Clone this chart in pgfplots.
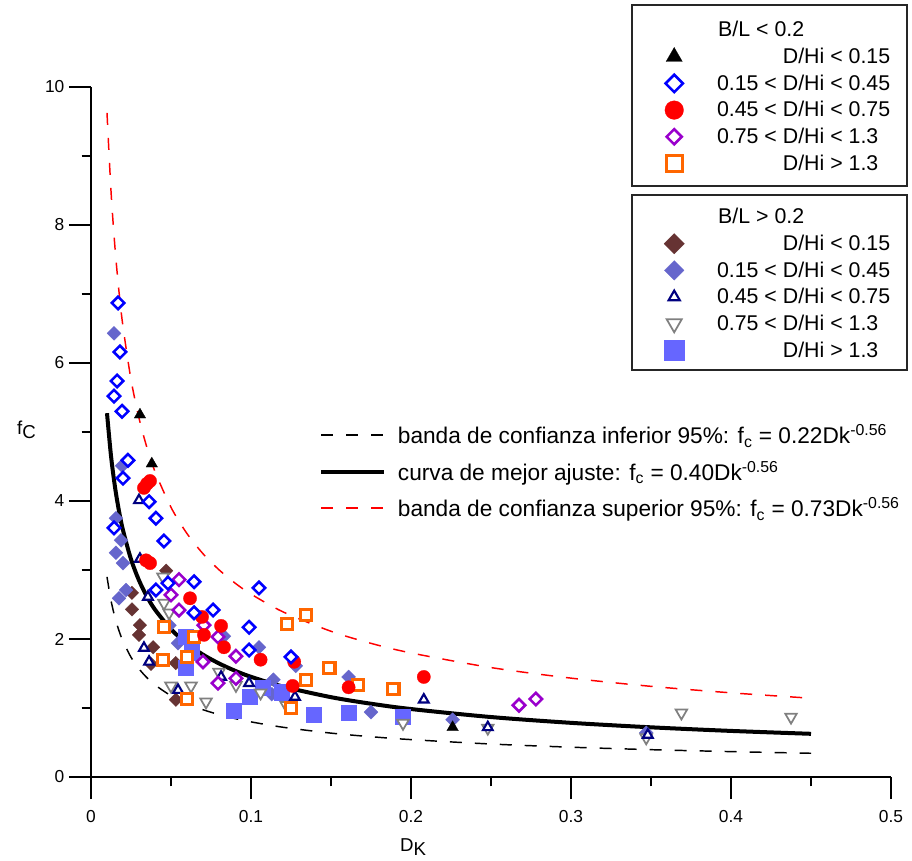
\documentclass[border=0pt]{standalone}
\usepackage{pgfplots}
\pgfplotsset{compat=1.18}
\usepackage{pgfplotstable}
\usepackage{fontspec}
\setmainfont{Liberation Sans}

\definecolor{cBlue}{HTML}{0000FF}
\definecolor{cRed}{HTML}{FF0000}
\definecolor{cPurple}{HTML}{9900CC}
\definecolor{cOrange}{HTML}{FF6600}
\definecolor{cBrown}{HTML}{663333}
\definecolor{cSlate}{HTML}{6666CC}
\definecolor{cNavy}{HTML}{000080}
\definecolor{cGray}{HTML}{808080}
\definecolor{cSq}{HTML}{6666FF}

% fitted curves fc = a*Dk^-0.56, a = 0.40 / 0.73 / 0.22
\pgfplotstableread{
x      fit    up     low
0.01   5.273  9.624  2.900
0.0125 4.654  8.493  2.559
0.015  4.202  7.668  2.311
0.0175 3.854  7.034  2.120
0.02   3.576  6.527  1.967
0.025  3.156  5.760  1.736
0.03   2.850  5.202  1.568
0.035  2.614  4.771  1.438
0.04   2.426  4.427  1.334
0.05   2.141  3.908  1.178
0.06   1.933  3.528  1.063
0.07   1.773  3.236  0.975
0.08   1.646  3.003  0.905
0.09   1.540  2.811  0.847
0.10   1.452  2.651  0.799
0.12   1.311  2.393  0.721
0.15   1.157  2.112  0.636
0.175  1.062  1.937  0.584
0.20   0.985  1.798  0.542
0.25   0.869  1.586  0.478
0.30   0.785  1.433  0.432
0.35   0.720  1.314  0.396
0.40   0.668  1.220  0.368
0.45   0.626  1.142  0.344
}\curves

% B/L < 0.2
\pgfplotstableread{
x y
0.0306 5.25
0.038 4.54
0.226 0.72
}\tA
\pgfplotstableread{
x y
0.0169 6.87
0.0181 6.16
0.0163 5.74
0.0144 5.52
0.0194 5.30
0.0231 4.59
0.0200 4.33
0.0363 3.99
0.0406 3.75
0.0456 3.42
0.0144 3.61
0.0481 2.81
0.0406 2.71
0.0644 2.83
0.105 2.74
0.0763 2.42
0.0644 2.38
0.0988 2.17
0.0988 1.84
0.125 1.74
}\tB
\pgfplotstableread{
x y
0.0331 4.19
0.035 4.25
0.0369 4.29
0.0344 3.14
0.0369 3.10
0.0619 2.59
0.0694 2.32
0.0706 2.06
0.0813 2.19
0.0831 1.88
0.106 1.70
0.127 1.67
0.126 1.32
0.161 1.30
0.208 1.45
}\tC
\pgfplotstableread{
x y
0.055 2.86
0.050 2.64
0.055 2.42
0.0706 2.20
0.0794 2.03
0.0906 1.75
0.0906 1.43
0.0794 1.36
0.070 1.67
0.2675 1.04
0.278 1.13
}\tD
\pgfplotstableread{
x y
0.0456 2.17
0.045 1.70
0.060 1.74
0.0644 2.03
0.060 1.13
0.1225 2.22
0.1344 2.35
0.1344 1.41
0.149 1.58
0.167 1.33
0.125 1.00
0.189 1.28
}\tE
% B/L > 0.2
\pgfplotstableread{
x y
0.047 2.99
0.0256 2.67
0.0256 2.43
0.0306 2.20
0.030 2.06
0.0388 1.88
0.0375 1.64
0.053 1.65
0.053 1.12
}\tF
\pgfplotstableread{
x y
0.0144 6.43
0.0194 4.51
0.0156 3.75
0.0188 3.43
0.0156 3.25
0.020 3.10
0.0219 2.71
0.0175 2.59
0.0544 1.94
0.0831 2.04
0.105 1.88
0.114 1.41
0.113 1.20
0.128 1.61
0.161 1.45
0.175 0.94
0.226 0.83
0.049 2.20
0.347 0.64
}\tG
\pgfplotstableread{
x y
0.030 4.01
0.0306 3.16
0.0356 2.61
0.0331 1.87
0.0363 1.67
0.0544 1.26
0.0813 1.45
0.0988 1.36
0.1275 1.16
0.208 1.12
0.248 0.72
0.348 0.61
}\tH
\pgfplotstableread{
x y
0.045 2.90
0.0456 2.52
0.0488 2.38
0.050 1.32
0.0625 1.32
0.0719 1.09
0.080 1.52
0.0906 1.33
0.106 1.22
0.122 1.04
0.195 0.78
0.369 0.93
0.4375 0.87
0.248 0.71
0.347 0.57
}\tI
\pgfplotstableread{
x y
0.059 2.04
0.063 1.81
0.059 1.58
0.089 0.96
0.099 1.17
0.1075 1.29
0.119 1.23
0.139 0.90
0.161 0.93
0.195 0.87
}\tJ

\pgfplotsset{
  sA/.style={only marks, mark=triangle*, mark size=5pt, mark options={draw=black, fill=black, line width=0.2pt}},
  sB/.style={only marks, mark=square*, mark size=3.3pt, mark options={rotate=45, draw=cBlue, fill=white, line width=1.9pt}},
  sC/.style={only marks, mark=*, mark size=5pt, mark options={draw=cRed, fill=cRed, line width=0.2pt}},
  sD/.style={only marks, mark=square*, mark size=3.3pt, mark options={rotate=45, draw=cPurple, fill=white, line width=1.9pt}},
  sE/.style={only marks, mark=square*, mark size=4.2pt, mark options={draw=cOrange, fill=white, line width=2.3pt}},
  sF/.style={only marks, mark=square*, mark size=3.6pt, mark options={rotate=45, draw=cBrown, fill=cBrown, line width=0.2pt}},
  sG/.style={only marks, mark=square*, mark size=3.7pt, mark options={rotate=45, draw=cSlate, fill=cSlate, line width=0.2pt}},
  sH/.style={only marks, mark=triangle*, mark size=4.2pt, mark options={draw=cNavy, fill=white, line width=1.6pt}},
  sI/.style={only marks, mark=triangle*, mark size=5pt, mark options={rotate=180, draw=cGray, fill=white, line width=1.3pt}},
  sJ/.style={only marks, mark=square*, mark size=5.7pt, mark options={draw=cSq, fill=cSq, line width=0.2pt}},
  mklegend/.style={legend image code/.code={\path[draw=none, fill=none] (-10pt,-6pt) rectangle (10pt,6pt); \draw[##1, mark size=#1] plot coordinates {(0pt,0pt)};}},
  boxlegend/.style={hide axis, scale only axis, width=600pt, height=517.5pt,
    at={(0,0)}, anchor=south west, xmin=0, xmax=1, ymin=0, ymax=1,
    legend style={at={(rel axis cs:0.707,#1)}, anchor=north west, draw=none, fill=none,
      font=\fontsize{16}{18}\selectfont, cells={anchor=west},
      row sep=2.9pt, column sep=21pt, inner xsep=3pt, inner ysep=2pt}},
}
\newcommand{\pre}[1]{\makebox[48.5pt][r]{#1}}

\begin{document}
\begin{tikzpicture}
\path[use as bounding box] (-68.25pt,-62.25pt) rectangle (615.75pt,582.75pt);

\begin{axis}[
    scale only axis, width=600pt, height=517.5pt,
    at={(0,0)}, anchor=south west,
    xmin=0, xmax=0.5, ymin=0, ymax=10,
    axis x line*=bottom, axis y line*=left,
    axis line style={line width=1.2pt},
    tick align=outside, major tick length=16.5pt, minor tick length=7pt,
    every tick/.style={line width=1.2pt, black},
    xtick={0,0.1,0.2,0.3,0.4,0.5}, minor x tick num=1,
    ytick={0,2,4,6,8,10}, minor y tick num=1,
    tick label style={font=\fontsize{13}{15}\selectfont},
    xticklabel style={yshift=-5pt},
    /pgf/number format/assume math mode=true,
    xlabel={D\raisebox{-0.45ex}{K}}, ylabel={f\raisebox{-0.45ex}{C}},
    every axis x label/.style={at={(ticklabel cs:0.4025)}, anchor=north, yshift=-5pt, font=\fontsize{14}{16}\selectfont},
    every axis y label/.style={at={(ticklabel cs:0.503)}, anchor=east, font=\fontsize{14}{16}\selectfont},
    legend style={at={(rel axis cs:0.28,0.519)}, anchor=north west, draw=none, fill=none,
      font=\fontsize{17}{19}\selectfont, cells={anchor=west}, row sep=7.3pt, column sep=7pt},
    legend image code/.code={\draw[#1] (0pt,0pt) -- (47pt,0pt);},
  ]
  \addplot[sF, forget plot] table {\tF};
  \addplot[sG, forget plot] table {\tG};
  \addplot[sJ, forget plot] table {\tJ};
  \addplot[sI, forget plot] table {\tI};
  \addplot[sH, forget plot] table {\tH};
  \addplot[sE, forget plot] table {\tE};
  \addplot[sD, forget plot] table {\tD};
  \addplot[sC, forget plot] table {\tC};
  \addplot[sB, forget plot] table {\tB};
  \addplot[sA, forget plot] table {\tA};

  \addplot[black, line width=1.1pt, dash pattern=on 9pt off 9.75pt, smooth, no markers] table[x=x, y=low] {\curves};
  \addlegendentry{banda de confianza inferior 95\%: f\textsubscript{c} = 0.22Dk\textsuperscript{-0.56}}
  \addplot[black, line width=3pt, smooth, no markers] table[x=x, y=fit] {\curves};
  \addlegendentry{curva de mejor ajuste: f\textsubscript{c} = 0.40Dk\textsuperscript{-0.56}}
  \addplot[cRed, line width=1.1pt, dash pattern=on 9pt off 9.75pt, smooth, no markers] table[x=x, y=up] {\curves};
  \addlegendentry{banda de confianza superior 95\%: f\textsubscript{c} = 0.73Dk\textsuperscript{-0.56}}
\end{axis}

\begin{axis}[boxlegend=1.1032]
  \addlegendimage{empty legend}\addlegendentry{B/L < 0.2}
  \addlegendimage{sA, mklegend=7pt}\addlegendentry{\pre{}D/Hi < 0.15}
  \addlegendimage{sB, mklegend=4.6pt}\addlegendentry{\pre{0.15 < }D/Hi < 0.45}
  \addlegendimage{sC, mklegend=7pt}\addlegendentry{\pre{0.45 < }D/Hi < 0.75}
  \addlegendimage{sD, mklegend=4pt}\addlegendentry{\pre{0.75 < }D/Hi < 1.3}
  \addlegendimage{sE, mklegend=6pt}\addlegendentry{\pre{}D/Hi > 1.3}
\end{axis}

\begin{axis}[boxlegend=0.8323]
  \addlegendimage{empty legend}\addlegendentry{B/L > 0.2}
  \addlegendimage{sF, mklegend=5.4pt}\addlegendentry{\pre{}D/Hi < 0.15}
  \addlegendimage{sG, mklegend=5.2pt}\addlegendentry{\pre{0.15 < }D/Hi < 0.45}
  \addlegendimage{sH, mklegend=4.8pt}\addlegendentry{\pre{0.45 < }D/Hi < 0.75}
  \addlegendimage{sI, mklegend=6.5pt}\addlegendentry{\pre{0.75 < }D/Hi < 1.3}
  \addlegendimage{sJ, mklegend=7.5pt}\addlegendentry{\pre{}D/Hi > 1.3}
\end{axis}

\draw[line width=1.5pt, black!85] (405.75pt,579pt) rectangle (612pt,443.25pt);
\draw[line width=1.5pt, black!85] (405.75pt,436.5pt) rectangle (612pt,305.25pt);
\end{tikzpicture}
\end{document}
